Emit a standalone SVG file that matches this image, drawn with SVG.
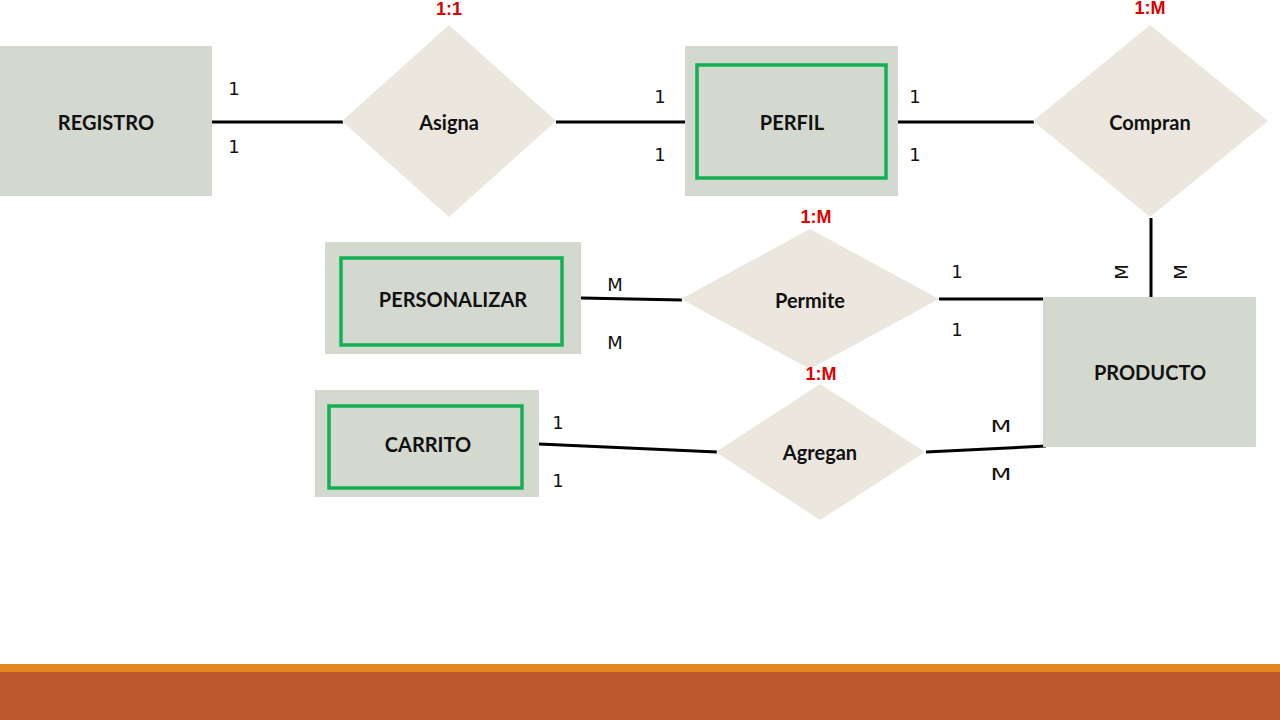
<svg xmlns="http://www.w3.org/2000/svg" width="1280" height="720" viewBox="0 0 1280 720">
<style>
.ent{fill:#D4D9D0}
.inner{fill:none;stroke:#12B050;stroke-width:3.5}
.rel{fill:#EBE6DE}
.lbl{font-family:Lato,"Liberation Sans",sans-serif;font-weight:bold;font-size:20px;fill:#111;text-anchor:middle;dominant-baseline:central}
.card{font-family:"DejaVu Sans","Liberation Sans",sans-serif;font-size:18px;fill:#111;text-anchor:middle;dominant-baseline:central}
.ratio{font-family:"Liberation Sans",sans-serif;font-weight:bold;font-size:18px;fill:#E00000;text-anchor:middle;dominant-baseline:central}
.ln{stroke:#000;stroke-width:3;fill:none}
</style>
<rect width="1280" height="720" fill="#fff"/>
<g id="connectors">
<line class="ln" x1="212" y1="122" x2="343" y2="122"/>
<line class="ln" x1="556" y1="122" x2="688" y2="122"/>
<line class="ln" x1="898" y1="122" x2="1034" y2="122"/>
<line class="ln" x1="1151" y1="218" x2="1151" y2="297"/>
<line class="ln" x1="581" y1="298" x2="682" y2="300"/>
<line class="ln" x1="939" y1="299" x2="1043" y2="299"/>
<line class="ln" x1="539" y1="444" x2="717" y2="452"/>
<line class="ln" x1="926" y1="452" x2="1046" y2="446"/>
</g>
<g id="registro">
<rect class="ent" x="0" y="46" width="212" height="150"/>
<text class="lbl" x="106" y="122">REGISTRO</text>
</g>
<g id="asigna">
<polygon class="rel" points="449,25 556,121 449,217 342,121"/>
<text class="lbl" x="449" y="122">Asigna</text>
<text class="ratio" x="449" y="9">1:1</text>
</g>
<g id="perfil">
<rect class="ent" x="685" y="46" width="213" height="150"/>
<rect class="inner" x="697" y="65" width="189" height="113"/>
<text class="lbl" x="792" y="122">PERFIL</text>
</g>
<g id="compran">
<polygon class="rel" points="1150,25 1268,121 1150,217 1033,121"/>
<text class="lbl" x="1150" y="122">Compran</text>
<text class="ratio" x="1150" y="8">1:M</text>
</g>
<g id="producto">
<rect class="ent" x="1043" y="297" width="213" height="150"/>
<text class="lbl" x="1150" y="372">PRODUCTO</text>
</g>
<g id="permite">
<polygon class="rel" points="810,229 939,299 810,369 681,299"/>
<text class="lbl" x="810" y="300">Permite</text>
<text class="ratio" x="816" y="217">1:M</text>
</g>
<g id="personalizar">
<rect class="ent" x="325" y="242" width="256" height="112"/>
<rect class="inner" x="341" y="258" width="221" height="87"/>
<text class="lbl" x="453" y="299">PERSONALIZAR</text>
</g>
<g id="agregan">
<polygon class="rel" points="820,384 925,452 820,520 716,452"/>
<text class="lbl" x="820" y="452">Agregan</text>
<text class="ratio" x="821" y="374">1:M</text>
</g>
<g id="carrito">
<rect class="ent" x="315" y="390" width="224" height="107"/>
<rect class="inner" x="329" y="406" width="193" height="82"/>
<text class="lbl" x="428" y="444">CARRITO</text>
</g>
<g id="cardinalities">
<text class="card" x="234" y="88">1</text>
<text class="card" x="234" y="146">1</text>
<text class="card" x="660" y="96">1</text>
<text class="card" x="660" y="154">1</text>
<text class="card" x="915" y="96">1</text>
<text class="card" x="915" y="154">1</text>
<text class="card" transform="translate(1121,272) rotate(-90)">M</text>
<text class="card" transform="translate(1180,272) rotate(-90)">M</text>
<text class="card" x="615" y="284">M</text>
<text class="card" x="615" y="342">M</text>
<text class="card" x="957" y="271">1</text>
<text class="card" x="957" y="329">1</text>
<text class="card" x="558" y="422">1</text>
<text class="card" x="558" y="480">1</text>
<text class="card" transform="translate(1001,427) scale(1.35,0.85)">M</text>
<text class="card" transform="translate(1001,475) scale(1.35,0.85)">M</text>
</g>
<g id="footer">
<rect x="0" y="664" width="1280" height="8" fill="#E3861C"/>
<rect x="0" y="672" width="1280" height="48" fill="#BD582C"/>
</g>
</svg>
